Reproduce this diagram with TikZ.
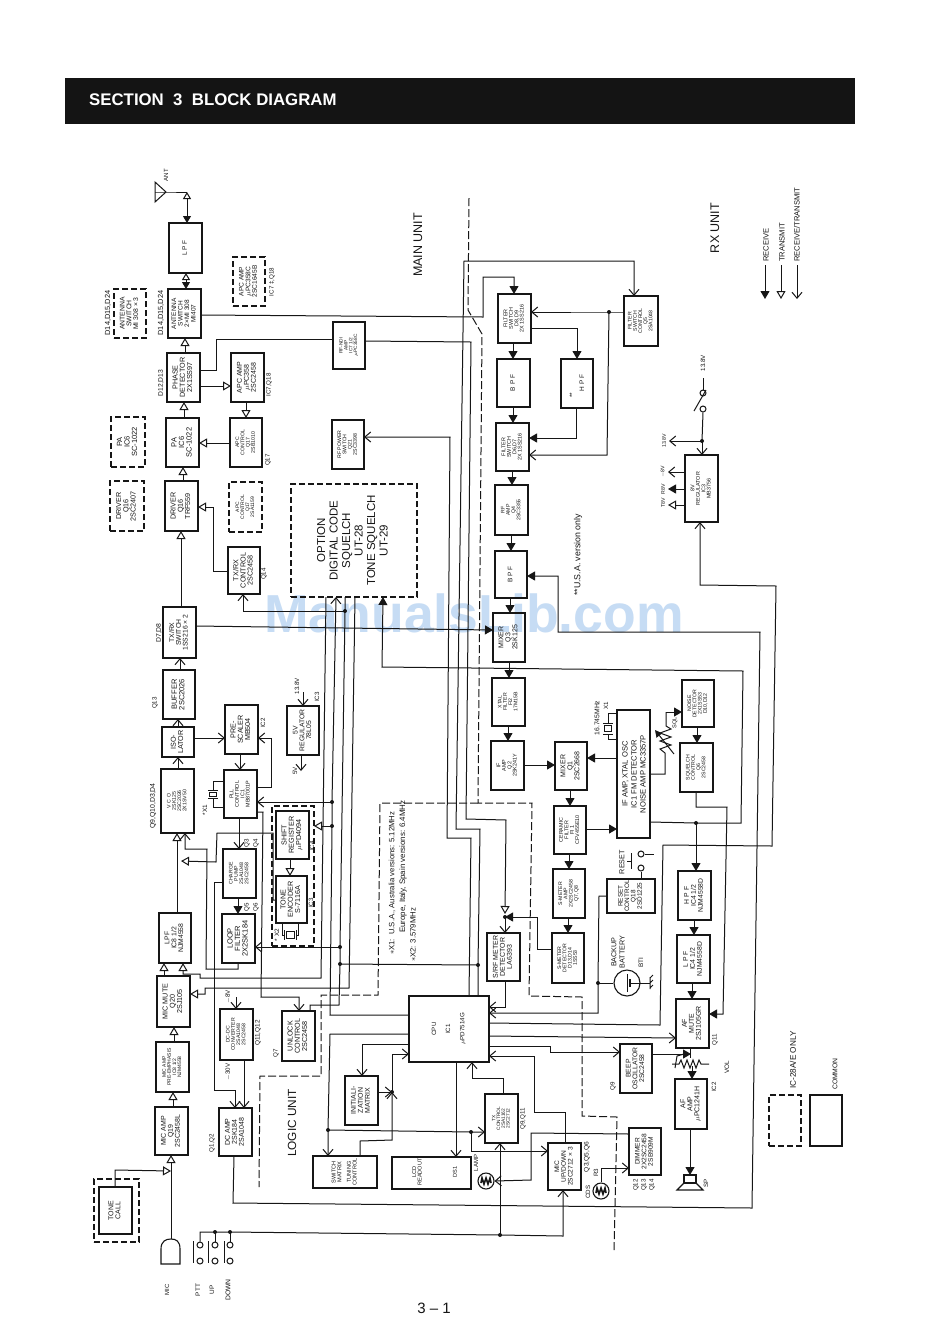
\documentclass[tikz,border=0pt]{standalone}
\usepackage{fontspec}
\usepackage{graphicx}
\setmainfont{Liberation Sans}
\usetikzlibrary{arrows.meta}
\definecolor{ink}{HTML}{161616}
\definecolor{wmark}{HTML}{C6DCF4}
\tikzset{
  wire/.style={line width=1pt,draw=ink},
  rxa/.style={wire,-{Triangle[length=8pt,width=9pt]}},
  txa/.style={wire,-{Triangle[open,length=8pt,width=9pt]}},
  bth/.style={wire,-{Straight Barb[length=6pt,width=10pt]}},
  o2f/.style={wire,{Triangle[open,length=7pt,width=8pt]}-{Triangle[length=7pt,width=8pt]}},
  boxn/.style={draw=ink,line width=1.2pt,inner sep=0pt,outer sep=0pt,text=ink},
  dashn/.style={boxn,dash pattern=on 6pt off 3pt},
  lab/.style={rotate=90,inner sep=0pt,text=ink,align=center},
  bound/.style={wire,dash pattern=on 8pt off 3pt},
}
\newcommand\rtx[2]{{\pgfmathparse{#1>=6.55?1.4:1.22}\let\rr\pgfmathresult\fontsize{#1}{#1}\selectfont\baselineskip=\rr\baselineskip\rotatebox{90}{\begin{tabular}{@{}c@{}}#2\end{tabular}}}}
\newcommand\mkbx[8]{\node[#1,minimum width={(#5-#3)*1pt},minimum height={(#6-#4)*1pt}] (#7) at ({(#3+#5)/2},{(#4+#6)/2}) {\rtx{#2}{#8}};}
% \bx[size]{name}{x1}{y1}{x2}{y2}{text}
\newcommand\bx[7][7.5]{\mkbx{boxn}{#1}{#3}{#4}{#5}{#6}{#2}{#7}}
\newcommand\dbx[7][7.5]{\mkbx{dashn}{#1}{#3}{#4}{#5}{#6}{#2}{#7}}
\newcounter{lbc}
\newcommand\lb[4]{\stepcounter{lbc}\node[lab,font=\fontsize{#3}{#3}\selectfont] (lb\arabic{lbc}) at (#1,#2) {#4};}
\newcommand\lbw[4]{\stepcounter{lbc}\node[lab,anchor=west,font=\fontsize{#3}{#3}\selectfont] (lb\arabic{lbc}) at (#1,#2) {#4};}
\newcommand\dt[3]{\coordinate (#1) at (#2,#3);\fill[ink] (#1) circle[radius=2pt];}
\newcommand\Vc[4][wire]{\draw[#1] (#2 -| #4,0) -- (#3 -| #4,0);}
\newcommand\Hc[4][wire]{\draw[#1] (#2 |- 0,#4) -- (#3 |- 0,#4);}
\newcommand\cont[3]{\node[draw=ink,line width=1pt,circle,fill=white,inner sep=0pt,minimum size=6pt] (#1) at (#2,#3) {};}
\begin{document}
\begin{tikzpicture}[x=1pt,y=-1pt]
\useasboundingbox (0,0) rectangle (950,1334);
\fill[white] (0,0) rectangle (950,1334);
% header
\fill[black!92] (65,78) rectangle (855,124);
\node[text=white,anchor=west,inner sep=0pt,font=\bfseries\fontsize{16.8}{16.8}\selectfont] (title) at (89,100) {SECTION\ \ 3\ \ BLOCK DIAGRAM};
% watermark
\node[text=wmark,anchor=center,inner sep=0pt,font=\bfseries\fontsize{53.5}{53.5}\selectfont] (wm) at (474,613) {ManualsLib.com};

% ---------- boxes: transmit chain
\bx[6.5]{lpf}{169}{223}{202}{273}{L P F}
\bx[6.5]{antsw}{168}{289}{201}{338}{ANTENNA\\SWITCH\\2×MI 308\\MI407}
\dbx[6.8]{dantsw}{114}{289}{146}{338}{ANTENNA\\SWITCH\\MI 308 × 3}
\bx[7.2]{phase}{167}{353}{200}{402}{PHASE\\DETECTOR\\2X1SS97}
\bx[7]{apca}{231}{353}{264}{402}{APC AMP\\$\mu$PC358\\2SC2458}
\dbx[6.6]{dapca}{233}{257}{265}{306}{APC AMP\\$\mu$PC358C\\2SC1645B}
\bx[4.8]{rfndi}{333}{322}{365}{369}{RF-NDI\\AMP\\IC7 1/2\\$\mu$PC358C}
\bx[7.5]{pa}{166}{418}{199}{467}{PA\\IC6\\SC-1022}
\dbx[7.5]{dpa}{111}{417}{145}{467}{PA\\IC6\\SC-1022}
\bx[5.2]{apcc}{230}{418}{262}{467}{APC\\CONTROL\\Q17\\2SB1010}
\bx[5.2]{rfpow}{332}{420}{364}{469}{RF POWER\\SWITCH\\Q21\\2SC3398}
\bx[7.2]{driver}{165}{481}{198}{531}{DRIVER\\Q16\\TRF559}
\dbx[7.2]{ddriver}{110}{481}{144}{531}{DRIVER\\Q16\\2SC2407}
\dbx[5]{dapcc}{229}{482}{262}{532}{APC\\CONTROL\\Q17\\2SA1159}
\bx[7.2]{txrxc}{228}{547}{260}{594}{TX/RX\\CONTROL\\2SC2458}
\bx[6.8]{txrxsw}{163}{607}{196}{658}{TX/RX\\SWITCH\\1SS216 × 2}
\bx[7.5]{buffer}{163}{670}{195}{719}{BUFFER\\2SC2026}
\bx[7.2]{iso}{162}{727}{194}{757}{ISO-\\LATOR}
\bx[5.2]{vco}{161}{769}{194}{833}{V C O\\2SK125\\2SC2026\\2X1SV50}
\bx[7.2]{pres}{225}{705}{258}{754}{PRE-\\SCALER\\MB504}
\bx[5.4]{pll}{224}{770}{257}{818}{PLL\\CONTROL\\IC1\\MB87001P}
\bx[6.8]{reg5}{287}{706}{319}{755}{5V\\REGULATOR\\78L05}
\bx[7.2]{shift}{276}{811}{309}{859}{SHIFT\\REGISTER\\$\mu$PD4094}
\bx[7.2]{tone}{276}{876}{307}{923}{TONE\\ENCODER\\S-7116A}
\node[dashn,minimum width=42pt,minimum height=140pt] (dshift) at (293,876) {};
\bx[5.2]{chg}{223}{849}{256}{898}{CHARGE\\PUMP\\2SA1048\\2SC2458}
\bx[7.5]{loop}{222}{914}{255}{963}{LOOP\\FILTER\\2X2SK184}
\bx[6.8]{lpf2}{159}{913}{191}{963}{LPF\\IC8 1/2\\NJM4558}
\bx[7.2]{micm}{157}{976}{190}{1027}{MIC MUTE\\Q20\\2SJ105}
\bx[5]{micp}{156}{1042}{189}{1092}{MIC AMP\\PRE-EMPHASIS\\IC8 1/2\\NJM4558}
\bx[7]{mica}{155}{1107}{188}{1155}{MIC AMP\\Q19\\2SC2458L}
\bx[7]{tcall}{99}{1187}{132}{1234}{TONE\\CALL}
\node[dashn,minimum width=45pt,minimum height=63pt] (dtcall) at (116.5,1210.5) {};
\bx[5.2]{dcdc}{220}{1009}{253}{1060}{DC-DC\\CONVERTER\\2SA1048\\2SC2458}
\bx[7]{dcamp}{219}{1108}{252}{1156}{DC AMP\\2SK184\\2SA1048}
\bx[7.2]{unlock}{282}{1011}{315}{1061}{UNLOCK\\CONTROL\\2SC2458}
\bx[7]{init}{345}{1076}{378}{1125}{INITIALI-\\ZATION\\MATRIX}
\bx[5.6]{swm}{313}{1156}{377}{1188}{SWITCH\\MATRIX\\[4pt]TUNING\\CONTROL}
% option
\dbx[11.5]{opt}{291}{484}{417}{597}{OPTION\\[1pt]DIGITAL\ CODE\\[1pt]SQUELCH\\[1pt]UT-28\\[1pt]TONE SQUELCH\\[1pt]UT-29}
% receive chain
\bx[5.4]{fsw1}{498}{294}{531}{343}{FILTER\\SWITCH\\D8,D9\\2X 1SS216}
\bx[6.5]{bpf1}{497}{359}{530}{407}{B P F}
\bx[6.5]{hpf}{561}{359}{593}{408}{}
\bx[5.4]{fsw2}{496}{423}{529}{471}{FILTER\\SWITCH\\D6,D7\\2X 1SS216}
\bx[5.2]{rfamp}{495}{485}{528}{535}{RF\\AMP\\Q4\\2SC3355}
\bx[6.5]{bpf2}{495}{551}{527}{598}{B P F}
\bx[7]{mix3}{493}{613}{525}{662}{MIXER\\Q3\\2SK125}
\bx[5.2]{xtal}{492}{678}{525}{726}{XTAL\\FILTER\\FI2\\17M15B}
\bx[5.4]{ifa}{491}{741}{524}{790}{IF\\AMP\\Q2\\2SK241Y}
\bx[7]{mix1}{555}{742}{587}{790}{MIXER\\Q1\\2SC2668}
\bx[5.4]{cer}{554}{806}{586}{854}{CERAMIC\\FILTER\\FI 1\\CFV455E10}
\bx[7.6]{ifb}{617}{710}{650}{838}{}
\lb{625.5}{774}{7.6}{IF AMP, XTAL OSC}
\lb{634}{774}{7.6}{IC1 FM DETECTOR}
\lb{643}{774}{7.6}{NOISE AMP MC3357P}
\bx[5.2]{sma}{553}{869}{585}{918}{S-METER\\AMP\\2X2SC2458\\Q7,Q8}
\bx[5.2]{smd}{552}{933}{584}{983}{S-METER\\DETECTOR\\D13,D14\\1SS53}
\bx[7]{srf}{487}{933}{520}{981}{S/RF METER\\DETECTOR\\LA6393}
\bx[6.4]{rstc}{607}{879}{655}{913}{RESET\\CONTROL\\Q18\\2SD1225}
\bx[5.2]{fswc}{624}{296}{658}{346}{FILTER\\SWITCH\\CONTROL\\Q5\\2SA1048}
\bx[5.2]{noise}{682}{680}{714}{727}{NOISE\\DETECTOR\\2X1SS53\\D10,D12}
\bx[5.2]{sqc}{680}{743}{713}{792}{SQUELCH\\CONTROL\\Q6\\2SC2458}
\bx[6.8]{hpf4}{678}{871}{711}{920}{H P F\\IC4 1/2\\NJM4558D}
\bx[6.8]{lpf4}{677}{935}{710}{983}{L P F\\IC4 1/2\\NJM4558D}
\bx[7]{afm}{676}{999}{709}{1048}{AF\\MUTE\\2SJ105GR}
\bx[7]{afa}{675}{1079}{707}{1129}{AF\\AMP\\$\mu$PC1241H}
\bx[6.8]{beep}{620}{1044}{652}{1093}{BEEP\\OSCILLATOR\\2SC2458}
\bx[6.6]{dim}{629}{1128}{661}{1175}{DIMMER\\2X2SC2458\\2SB909M}
\bx[6.6]{mud}{548}{1143}{581}{1190}{MIC\\UP/DOWN\\2SC2712 × 3}
\bx[4.8]{txc}{485}{1094}{518}{1143}{TX\\CONTROL\\2SA1162\\2SC2712}
\bx[6.2]{cpu}{409}{996}{489}{1062}{CPU\\[8pt]IC1\\[8pt]$\mu$PD7514G}
\bx[5.5]{lcd}{392}{1157}{471}{1189}{}
\bx[5.4]{reg8}{685}{455}{718}{522}{8V\\REGULATOR\\IC3\\MB3756}
% legend boxes
\node[dashn,minimum width=32pt,minimum height=51pt] (legd) at (785,1120.5) {};
\node[boxn,minimum width=32pt,minimum height=51pt] (legc) at (826,1120.5) {};

% ---------- free labels
\lb{166}{175}{6}{ANT}
\lb{108}{313}{7.4}{D14,D15,D24}
\lb{161}{313}{7.4}{D14,D15,D24}
\lb{161}{383}{6.7}{D12,D13}
\lb{269}{385}{6.2}{IC7,Q18}
\lb{272}{282}{6.2}{IC7 ‡,Q18}
\lb{268}{460}{6.2}{Q17}
\lb{264}{574}{6.2}{Q14}
\lb{159}{633}{6.8}{D7,D8}
\lb{155}{703}{6.2}{Q13}
\lb{153}{806}{6.9}{Q9,Q10,D3,D4}
\lb{263}{723}{6.2}{IC2}
\lb{205}{810}{6.4}{*X1}
\lb{247}{843}{6.2}{Q3}
\lb{256}{843}{6.2}{Q4}
\lb{247}{907}{6.2}{Q5}
\lb{256}{907}{6.2}{Q6}
\lb{312}{846}{6.2}{IC4}
\lb{311}{903}{6.2}{IC3}
\lb{277}{935}{6.4}{* X2}
\lb{297}{686}{6.2}{13.8V}
\lb{317}{697}{6.2}{IC3}
\lb{295}{771}{6.2}{5V}
\lb{228}{997}{6.2}{$-$8V}
\lb{228}{1072}{6.2}{$-$30V}
\lb{258}{1033}{6.4}{Q11,Q12}
\lb{276}{1053}{6.2}{Q7}
\lb{212}{1143}{6.2}{Q1,Q2}
\lb{167}{1290}{6}{MIC}
\lb{198}{1290}{6.4}{PTT}
\lb{212}{1290}{6.4}{UP}
\lb{228}{1290}{6.8}{DOWN}
\lb{292}{1123}{11.8}{LOGIC UNIT}
\lb{418}{245}{12.5}{MAIN UNIT}
\lb{715}{228}{12.5}{RX UNIT}
\lb{582}{383}{6.5}{H P F}
\lb{572}{395}{6.5}{**}
\lbw{578}{596}{8.8}{**U.S.A. version only}
\lbw{392}{955}{7.7}{$*$X1:\ \ U.S.A., Australia versions: 5.12MHz}
\lbw{403}{933}{7.9}{Europe, Italy, Spain versions: 6.4MHz}
\lbw{413}{962}{7.7}{$*$X2: 3.579MHz}
\lb{597}{718}{6.8}{16.745MHz}
\lb{606}{706}{6.2}{X1}
\lb{675}{723}{5.6}{SQL}
\lb{622}{862}{7.2}{RESET}
\lb{618}{952}{7.2}{BACKUP\\[1pt]BATTERY}
\lb{641}{963}{6.4}{BTI}
\lb{715}{1040}{6.2}{Q11}
\lb{727}{1067}{6.4}{VOL}
\lb{714}{1087}{6.2}{IC2}
\lb{706}{1183}{6.2}{SP}
\lb{523}{1119}{6.2}{Q9,Q11}
\lb{613}{1086}{6.2}{Q9}
\lb{476}{1163}{6}{LAMP}
\lb{596}{1173}{6.2}{R3}
\lb{588}{1192}{6.2}{CDS}
\lb{587}{1157}{6.6}{Q3,Q5,Q6}
\lb{636}{1185}{6.2}{Q12}
\lb{644}{1185}{6.2}{Q13}
\lb{652}{1185}{6.2}{Q14}
\lb{417}{1172}{5.6}{LCD\\READOUT}
\lb{455}{1172}{5.6}{DS1}
\lb{703}{363}{6.2}{13.8V}
\lb{664}{441}{5.2}{13.8V}
\lb{663}{472}{5.2}{$-$8V}
\lb{663}{489}{5.2}{R8V}
\lb{663}{503}{5.2}{T8V}
\lbw{766}{262}{7.6}{RECEIVE}
\lbw{782}{262}{7.6}{TRANSMIT}
\lbw{797}{262}{7.6}{RECEIVE/TRANSMIT}
\lb{793}{1060}{8.2}{IC-28A/E ONLY}
\lb{835}{1074}{6.8}{COMMON}
\node[inner sep=0pt,text=ink,font=\fontsize{15}{15}\selectfont] (pageno) at (434,1308) {3 -- 1};

% ---------- antenna
\coordinate (anttip) at (166,192);
\coordinate (antj) at (187,192);
\draw[wire] (155,182) -- (155,202) -- (anttip) -- cycle;
\draw[wire] (155,192) -- (anttip) -- (antj);
\draw[o2f] (antj) -- (lpf.north -| antj);
\Vc[o2f]{lpf.south}{antsw.north}{186}
\Vc[txa]{phase.north}{antsw.south}{185}
\Vc[txa]{pa.north}{phase.south}{184}
\Vc[txa]{driver.north}{pa.south}{183}
\Vc[txa]{txrxsw.north}{driver.south}{181}
\draw[txa] (txrxc.west |- 0,571) -- (213,571) -- (213,507) -- (driver.east |- 0,507);
\Hc[txa]{apcc.west}{pa.east}{443}
\Vc[txa]{apca.south}{apcc.north}{246}
\Hc[txa]{phase.east}{apca.west}{386}
\draw[wire] (phase.east |- 0,370) -- (216,370) -- (216,339) -- (rfndi.west |- 0,339);
\draw[rxa] (antsw.east |- 0,315) -- (483,317) -- (483,277) -- (514,277) -- (fsw1.north -| 514,0);

% ---------- long verticals
\dt{dmet}{505}{917}
\dt{dcpu}{478}{965}
\draw[txa] (rfndi.east |- 0,341) -- (471,342) -- (466,819) -- (506,820) -- (505,914);
\draw[bth] (dmet) -- (srf.north -| dmet);
\draw[rxa] (smd.west |- 0,949) -- (537,949) -- (537,917) -- (dmet);
\draw[bth] (cpu.north -| 469,0) -- (471,838) -- (447,838) -- (450,437) -- (rfpow.east |- 0,437);
\draw[bth] (cpu.north -| 478,0) -- (dcpu) -- (480,829) -- (456,829) -- (464,261) -- (634,261) -- (fswc.north -| 634,0);
\dt{d611}{345}{611}
\dt{d948}{340}{947}
\dt{d964}{340}{964}
\dt{d802}{332}{802}
\dt{d826}{332}{826}
\draw[wire] (opt.south -| 345,0) -- (d611) -- (d948) -- (d964) -- (339,1005) -- (310,1005) -- (unlock.north -| 310,0);
\draw[wire] (d964) -- (dcpu);
\draw[bth] (d611) -- (243,611) -- (txrxc.south -| 243,0);
\draw[bth] (d948) -- (loop.east |- d948);
\draw[bth] (cpu.west |- 0,1015) -- (330,1015) -- (d826) -- (d802) -- (opt.south -| 336,0);
\draw[bth] (d802) -- (pll.east |- d802);
\draw[txa] (d826) -- (dshift.east |- d826);
\draw[txa] (opt.south -| 326,0) -- (321,978) -- (200,978) -- (200,974) -- (183,974) -- (lpf2.south -| 183,0);
\draw[txa] (opt.south -| 355,0) -- (349,988) -- (205,988) -- (205,994) -- (micm.east |- 0,994);
\draw[rxa] (txrxsw.east |- 0,626) -- (mix3.west |- 0,630);

% ---------- PLL section
\Vc[bth]{buffer.north}{txrxsw.south}{180}
\Vc[bth]{iso.north}{buffer.south}{178}
\Vc[bth]{vco.north}{iso.south}{178}
\Hc[bth]{iso.east}{pres.west}{738}
\Vc[bth]{pres.south}{pll.north}{240}
\draw[bth] (pll.east |- 0,787) -- (271,787) -- (271,738) -- (pres.east |- 0,738);
\Vc[bth]{pll.south}{chg.north}{239}
\Vc[rxa]{chg.south}{loop.north}{238}
\coordinate (in138) at (303,692);
\draw[bth] (in138) -- (reg5.north -| in138);
\coordinate (out5) at (301,771);
\draw[bth] (reg5.south -| out5) -- (out5);
% crystal X1
\draw[wire] (pll.west |- 0,781) -- (213,781) -- (213,790);
\draw[wire] (pll.west |- 0,807) -- (213,807) -- (213,798);
\draw[wire] (208,790) -- (218,790) (208,798) -- (218,798);
\draw[wire,line width=.8pt] (209.5,792) rectangle (216.5,796);
% shift / tone
\Vc[txa]{shift.south}{tone.north}{290}
\draw[txa] (tone.west |- 0,900) -- (273,900) -- (273,833) -- (217,833) -- (216,862) -- (181,861);
% crystal X2
\draw[wire] (tone.south -| 282,0) -- (282,935) -- (284,935);
\draw[wire] (tone.south -| 298,0) -- (298,935) -- (296,935);
\draw[wire] (284,930) -- (284,940) (296,930) -- (296,940);
\draw[wire,line width=.8pt] (286,931.5) rectangle (294,938.5);
\Vc[txa]{lpf2.north}{vco.south}{177}
\draw[bth] (loop.south -| 238,0) -- (238,969) -- (206,969) -- (207,849) -- (185,849) -- (vco.south -| 185,0);
\draw[bth] (chg.west |- 0,882) -- (214,882) -- (214,1090) -- (235,1090) -- (dcamp.north -| 235,0);
\draw[bth] (pll.east |- 0,812) -- (263,812) -- (261,997) -- (299,997) -- (unlock.north -| 299,0);
\Vc[txa]{micm.north}{lpf2.south}{164}
\Vc[txa]{micp.north}{micm.south}{174}
\Vc[txa]{mica.north}{micp.south}{173}
\coordinate (in8) at (236,997);
\draw[bth] (in8) -- (dcdc.north -| in8);
\Vc[bth]{dcdc.south}{dcamp.north}{244}

% ---------- mic and keys
\coordinate (mictop) at (171,1239);
\draw[wire,line width=1.1pt] (161,1264) -- (161,1249) .. controls (161,1241) and (166,1239) .. (mictop) .. controls (176,1239) and (180,1241) .. (180,1249) -- (180,1264) -- cycle;
\draw[txa] (mictop) -- (mica.south -| mictop);
\coordinate (tcj) at (171,1171);
\draw[txa] (tcall.north -| 115,0) -- (115,1170) -- (tcj);
\dt{d215}{215}{1232}
\dt{d230}{230}{1232}
\dt{dbus}{500}{1235}
\cont{p1}{200}{1245}\cont{p2}{200}{1261}
\cont{u1}{215}{1245}\cont{u2}{215}{1261}
\cont{k1}{230}{1245}\cont{k2}{230}{1261}
\draw[wire] (193,1241) -- (193,1263) (208,1241) -- (208,1263) (224,1241) -- (224,1263);
\draw[wire] (p1.north) -- (200,1232) -- (d215) -- (d230) -- (dbus);
\draw[wire] (d215) -- (u1.north);
\draw[wire] (d230) -- (k1.north);
\draw[bth] (dbus) -- (563,1236) -- (mud.south -| 563,0);
\draw[bth] (dbus) -- (txc.south -| dbus);

% ---------- boundaries
\draw[bound] (469,198) -- (468,310) -- (482,334) -- (478,803) -- (532,803) -- (529,996) -- (582,997) -- (582,1116) -- (617,1117) -- (614,1250);
\draw[bound] (478,803) -- (380,803) -- (378,995) -- (321,995) -- (321,1076) -- (260,1076) -- (259,1187);

% ---------- filters
\Vc[rxa]{fsw1.south}{bpf1.north}{513}
\Vc[rxa]{bpf1.south}{fsw2.north}{513}
\Vc[rxa]{fsw2.south}{rfamp.north}{512}
\Vc[rxa]{rfamp.south}{bpf2.north}{511}
\Vc[rxa]{bpf2.south}{mix3.north}{510}
\Vc[rxa]{mix3.south}{xtal.north}{509}
\Vc[rxa]{xtal.south}{ifa.north}{508}
\Hc[rxa]{ifa.east}{mix1.west}{765}
\Hc[rxa]{ifb.west}{mix1.east}{758}
\Vc[rxa]{mix1.south}{cer.north}{570}
\Hc[rxa]{cer.east}{ifb.west}{829}
\Vc[rxa]{cer.south}{sma.north}{569}
\Vc[rxa]{sma.south}{smd.north}{568}
\draw[rxa] (fsw1.east |- 0,328) -- (577,328) -- (hpf.north -| 577,0);
\draw[rxa] (hpf.south -| 576,0) -- (576,438) -- (fsw2.east |- 0,438);
\dt{d609}{609}{312}
\draw[bth] (fswc.west |- d609) -- (d609) -- (fsw1.east |- d609);
\draw[bth] (d609) -- (607,455) -- (fsw2.east |- 0,455);
\draw[rxa] (dcamp.south -| 234,0) -- (233,1203) -- (752,1208) -- (760,632) -- (558,632) -- (558,576) -- (bpf2.east |- 0,576);
% crystal at IF
\draw[wire] (ifb.west |- 0,713) -- (608,713) -- (608,723);
\draw[wire] (ifb.west |- 0,739) -- (608,739) -- (608,734);
\draw[wire] (603,723) -- (613,723) (603,734) -- (613,734);
\draw[wire,line width=.8pt] (604.5,725.5) rectangle (611.5,731.5);
% squelch
\dt{d696}{696}{823}
\draw[rxa] (ifb.east |- 0,822) -- (d696) -- (741,823) -- (743,671) -- (382,667) -- (opt.south -| 383,0);
\draw[rxa] (d696) -- (hpf4.north -| d696);
\draw[rxa] (sqc.south -| 696,0) -- (696,807) -- (727,807) -- (723,1014) -- (afm.east |- 0,1014);
\Vc[rxa]{noise.south}{sqc.north}{697}
\Vc[rxa]{hpf4.south}{lpf4.north}{694}
\Vc[rxa]{lpf4.south}{afm.north}{692}
\draw[wire] (ifb.east |- 0,774) -- (665,774) -- (665,753) -- (660,749) -- (671,745) -- (660,741) -- (671,737) -- (660,733) -- (671,729) -- (666,726) -- (666,712);
\draw[rxa] (666,712) -- (noise.west |- 0,712);
\draw[wire,-{Triangle[length=7pt,width=7pt]}] (674,754) -- (655,730);
% regulator
\cont{s1}{703}{393}\cont{s2}{703}{409}
\draw[wire] (703,378) -- (s1.north);
\draw[wire] (694,411) -- (706,390);
\dt{d441}{702}{441}
\draw[wire] (s2.south) -- (d441);
\draw[bth] (d441) -- (reg8.north -| d441);
\coordinate (o138) at (669,441);
\draw[bth] (d441) -- (o138);
\coordinate (om8) at (668,472);\coordinate (or8) at (668,489);\coordinate (ot8) at (668,505);
\draw[bth] (reg8.west |- om8) -- (om8);
\draw[rxa] (reg8.west |- or8) -- (or8);
\draw[txa] (reg8.west |- ot8) -- (ot8);
\draw[bth] (cpu.east |- 0,1023) -- (660,1025) -- (663,845) -- (772,846) -- (776,586) -- (700,585) -- (reg8.south -| 700,0);

% ---------- reset and battery
\node[draw=ink,line width=1.1pt,circle,inner sep=0pt,minimum size=26pt] (batt) at (627,983) {};
\cont{r1}{641}{854}\cont{r2}{641}{868}
\coordinate (rfree) at (654,854);
\draw[wire] (r1) -- (rfree);
\draw[wire] (r2.south) -- (rstc.north -| r2);
\draw[wire] (631,853) -- (631,869) (627,861) -- (631,861);
\dt{d598}{598}{983}
\draw[bth] (rstc.west |- 0,896) -- (599,896) -- (d598) -- (598,1013) -- (cpu.east |- 0,1013);
\draw[wire] (d598) -- (batt.west);
\draw[wire] (627,974) -- (627,992);
\draw[line width=2pt,draw=ink] (630,979) -- (630,987);
\draw[wire] (630,983) -- (650,983);
\draw[wire] (650,977) -- (650,989) (650,978) -- (653,975) (650,983) -- (653,980) (650,988) -- (653,985);
% ---------- CPU
\draw[bth] (srf.south -| 505,0) -- (505,1007) -- (cpu.east |- 0,1007);
\draw[bth] (cpu.east |- 0,1036) -- (afm.west |- 0,1038);
\draw[bth] (cpu.east |- 0,1046) -- (550,1046) -- (550,1052) -- (beep.west |- 0,1052);
\draw[bth] (mud.north -| 565,0) -- (565,1112) -- (534,1112) -- (534,1056) -- (cpu.east |- 0,1056);
\draw[bth] (cpu.south -| 456,0) -- (lcd.north -| 456,0);
\draw[bth] (txc.north -| 503,0) -- (503,1078) -- (472,1078) -- (cpu.south -| 472,0);
\draw[bth] (cpu.west |- 0,1044) -- (362,1044) -- (init.north -| 362,0);
\dt{d1130}{328}{1130}
\dt{d1132}{471}{1132}
\dt{d1092}{392}{1092}
\draw[bth] (cpu.west |- 0,1034) -- (330,1034) -- (d1130) -- (swm.north -| 328,0);
\draw[bth] (d1130) -- (d1132) -- (txc.west |- d1132);
\draw[bth] (d1132) -- (471,1151) -- (mud.west |- 0,1151);
\draw[bth] (swm.north -| 360,0) -- (360,1141) -- (392,1140) -- (d1092);
\draw[bth] (d1092) -- (392,1054) -- (cpu.west |- 0,1054);
\draw[bth] (init.east |- d1092) -- (d1092);
% lamp and cds
\node[draw=ink,line width=1.1pt,circle,inner sep=0pt,minimum size=16pt] (lamp) at (486,1181) {};
\node[draw=ink,line width=1.1pt,circle,inner sep=0pt,minimum size=16pt] (cds) at (601,1191) {};
\draw[line width=1.6pt,draw=ink] (481,1183) -- (482,1178) -- (484,1184) -- (486,1178) -- (488,1184) -- (490,1178) -- (491,1183);
\draw[line width=1.6pt,draw=ink] (596,1193) -- (597,1188) -- (599,1194) -- (601,1188) -- (603,1194) -- (605,1188) -- (606,1193);
\draw[bth] (dim.west |- 0,1134) -- (531,1133) -- (531,1180) -- (lamp.east);
\draw[bth] (cds.north) -- (601,1168) -- (dim.west |- 0,1168);
% volume and speaker
\coordinate (beepo) at (691,1054);
\draw[rxa] (beep.east |- beepo) -- (beepo);
\coordinate (volj) at (690,1058);
\draw[wire] (afm.south -| volj) -- (volj);
\draw[wire] (672,1064) -- (679,1064) -- (681,1060) -- (684,1068) -- (687,1060) -- (690,1068) -- (693,1060) -- (696,1068) -- (699,1060) -- (701,1064) -- (709,1064);
\draw[wire] (675,1068) -- (677,1056) -- (684,1054);
\coordinate (volo) at (692,1066);
\draw[rxa] (volo) -- (afa.north -| volo);
\coordinate (spk) at (690,1175);
\draw[rxa] (afa.south -| spk) -- (spk);
\draw[wire,line width=1.1pt] (684,1175) rectangle (696,1183);
\draw[wire,line width=1.1pt] (684,1183) -- (677,1190) -- (703,1190) -- (696,1183);
% legend arrows
\coordinate (l1a) at (765,265);\coordinate (l1b) at (765,299);
\coordinate (l2a) at (781,265);\coordinate (l2b) at (781,299);
\coordinate (l3a) at (797,265);\coordinate (l3b) at (797,299);
\draw[rxa] (l1a) -- (l1b);
\draw[txa] (l2a) -- (l2b);
\draw[bth] (l3a) -- (l3b);
\end{tikzpicture}
\end{document}
